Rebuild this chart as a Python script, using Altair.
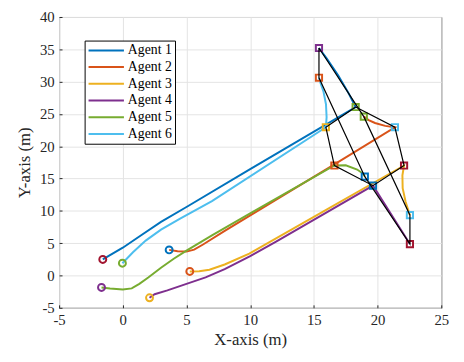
import altair as alt
import pandas as pd

agents = ["Agent 1", "Agent 2", "Agent 3", "Agent 4", "Agent 5", "Agent 6"]
BLUE, ORANGE, YELLOW, PURPLE, GREEN, LBLUE, DRED = (
    "#0072BD", "#D95319", "#EDB120", "#7E2F8E", "#77AC30", "#4DBEEE", "#A2142F")
line_colors = [BLUE, ORANGE, YELLOW, PURPLE, GREEN, LBLUE]
start_colors = [DRED, BLUE, ORANGE, YELLOW, PURPLE, GREEN]
mid_colors = [GREEN, LBLUE, DRED, BLUE, ORANGE, YELLOW]
end_colors = [PURPLE, GREEN, LBLUE, DRED, BLUE, ORANGE]

# phase 1: start -> first formation (hexagon)
p1_x = [
    [-1.57, 0.0, 1.5, 3.0, 5.0, 10.0],
    [3.64, 4.3, 5.0, 5.6, 6.3, 8.0, 16.61],
    [5.26, 6.0, 6.8, 8.0, 9.93, 16.1],
    [2.1, 2.5, 3.5, 5.0, 6.5, 8.0, 10.0, 12.0],
    [-1.67, -1.0, 0.0, 0.7, 1.3, 2.0, 3.0, 4.0, 5.0, 7.0, 10.0],
    [-0.03, 0.8, 1.8, 3.0, 4.5, 7.0],
]
p1_y = [
    [2.48, 4.3, 6.3, 8.3, 10.6, 16.46],
    [3.96, 3.75, 3.7, 4.0, 4.8, 6.9, 17.2],
    [0.63, 0.65, 0.9, 1.7, 3.4, 10.3],
    [-3.45, -2.9, -2.3, -1.3, -0.3, 1.0, 3.0, 5.2],
    [-1.85, -2.0, -2.15, -2.0, -1.3, -0.3, 1.2, 2.6, 3.86, 6.2, 9.6],
    [1.9, 3.6, 5.4, 7.1, 8.8, 11.5],
]
# first formation
mid_x = [18.28, 21.36, 22.08, 19.64, 16.61, 15.94]
mid_y = [26.07, 22.94, 17.02, 13.90, 17.02, 22.94]
# phase 2: first formation -> final formation
p2_x = [
    [17.7, 16.9, 16.0],
    [20.6, 19.8, 19.3],
    [21.95, 21.97, 22.2],
    [],
    [17.5, 18.4, 18.9],
    [16.0, 15.95, 15.75, 15.5],
]
p2_y = [
    [28.3, 31.0, 33.6],
    [23.15, 23.6, 24.05],
    [15.5, 13.5, 11.4],
    [],
    [17.05, 16.4, 15.7],
    [24.5, 26.5, 28.5, 29.9],
]
# final formation
end_x = [15.40, 18.92, 22.54, 22.54, 19.00, 15.40]
end_y = [35.20, 24.58, 9.33, 4.86, 15.29, 30.60]

x_ticks = [-5, 0, 5, 10, 15, 20, 25]
y_ticks = [-5, 0, 5, 10, 15, 20, 25, 30, 35, 40]

rows = []
for i, a in enumerate(agents):
    xv_list = p1_x[i] + [mid_x[i]] + p2_x[i] + [end_x[i]]
    yv_list = p1_y[i] + [mid_y[i]] + p2_y[i] + [end_y[i]]
    for k, (xv, yv) in enumerate(zip(xv_list, yv_list)):
        rows.append({"agent": a, "x": xv, "y": yv, "k": k})
traj = pd.DataFrame(rows)

starts = pd.DataFrame({"x": [p[0] for p in p1_x], "y": [p[0] for p in p1_y], "c": start_colors})
mids = pd.DataFrame({"x": mid_x, "y": mid_y, "c": mid_colors})
ends = pd.DataFrame({"x": end_x, "y": end_y, "c": end_colors})

poly_rows = []
for name, px, py in [("f1", mid_x, mid_y), ("f2", end_x, end_y)]:
    for k in range(len(px) + 1):
        poly_rows.append({"poly": name, "x": px[k % len(px)], "y": py[k % len(py)], "k": k})
polys = pd.DataFrame(poly_rows)

FONT = "Liberation Serif"
TXT = "#262626"
xs = alt.Scale(domain=[-5, 25], nice=False, zero=False)
ys = alt.Scale(domain=[-5, 40], nice=False, zero=False)


def X():
    return alt.X("x:Q", scale=xs, axis=alt.Axis(
        values=x_ticks, title="X-axis (m)", offset=-3, tickSize=3, domain=False,
        labelPadding=5, titlePadding=4, labelExpr="'' + datum.value",
        labelOverlap=False, labelFlush=False, labelFont=FONT, titleFont=FONT))


def Y():
    return alt.Y("y:Q", scale=ys, axis=alt.Axis(
        values=y_ticks, title="Y-axis (m)", offset=-3, tickSize=3, domain=False,
        labelPadding=5, titlePadding=6, labelExpr="'' + datum.value",
        labelOverlap=False, labelFlush=False, labelFont=FONT, titleFont=FONT))


lines = alt.Chart(traj).mark_line(strokeWidth=2).encode(
    x=X(), y=Y(),
    color=alt.Color("agent:N", scale=alt.Scale(domain=agents, range=line_colors),
                    legend=alt.Legend(title=None, orient="none", legendX=26, legendY=24,
                                      symbolType="M-1,0H5", symbolSize=144, symbolStrokeWidth=2,
                                      labelFont=FONT, labelFontSize=14, labelColor="black",
                                      labelFontWeight="normal",
                                      strokeColor="black", fillColor="white", padding=3,
                                      rowPadding=3, labelOffset=27, cornerRadius=0)),
    detail="agent:N",
    order="k:Q",
)
circ = alt.Chart(starts).mark_point(shape="circle", filled=False, size=50, strokeWidth=2, opacity=1).encode(
    x=X(), y=Y(), color=alt.Color("c:N", scale=None))
sq1 = alt.Chart(mids).mark_point(shape="square", filled=False, size=40, strokeWidth=2, opacity=1).encode(
    x=X(), y=Y(), color=alt.Color("c:N", scale=None))
sq2 = alt.Chart(ends).mark_point(shape="square", filled=False, size=40, strokeWidth=2, opacity=1).encode(
    x=X(), y=Y(), color=alt.Color("c:N", scale=None))
hexes = alt.Chart(polys).mark_line(color="black", strokeWidth=1.2).encode(
    x=X(), y=Y(), detail="poly:N", order="k:Q")

chart = alt.layer(lines, circ, sq1, sq2, hexes).properties(
    width=389, height=296,
    autosize=alt.AutoSizeParams(type="none"),
    padding={"left": 52, "top": 6, "right": 15, "bottom": 52},
).configure_view(stroke=TXT, strokeWidth=1).configure_axis(
    labelFont=FONT, titleFont=FONT, labelFontSize=15, titleFontSize=17,
    labelColor=TXT, titleColor=TXT, titleFontWeight="normal",
    gridColor="#e3e3e3", gridWidth=1, tickColor=TXT,
)

chart.save("out.html", embed_options={"renderer": "svg", "actions": False})
